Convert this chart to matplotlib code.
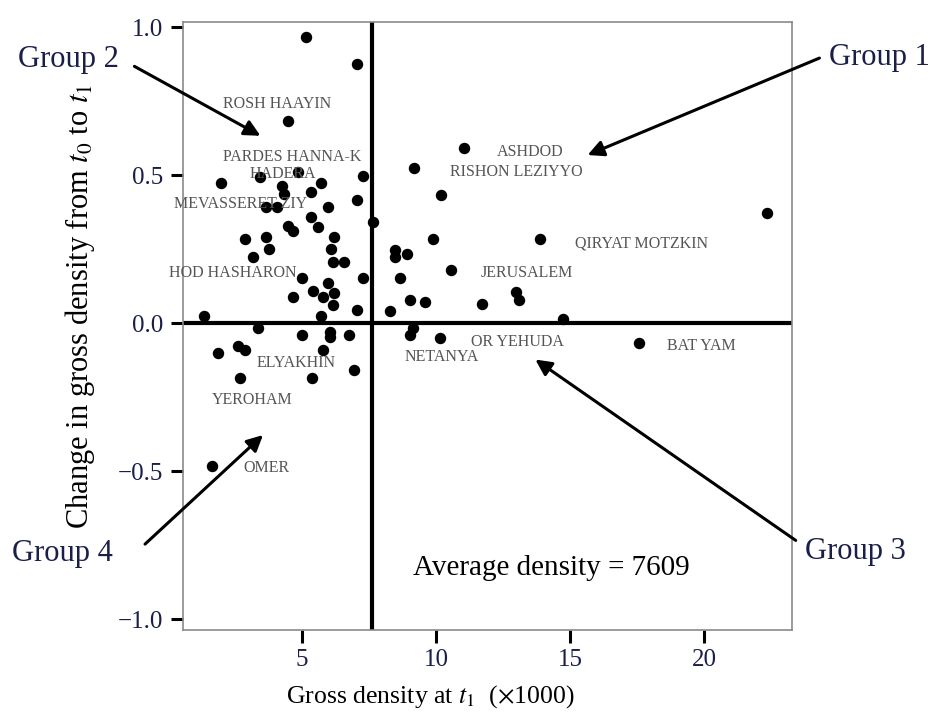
import matplotlib.pyplot as plt

plt.rcParams['font.family'] = ['Liberation Serif', 'DejaVu Serif']
plt.rcParams['mathtext.fontset'] = 'stix'

# Gross density at t1 (x1000) and change in gross density, one point per town
density = [5.15, 7.05, 4.48, 11.04, 9.18, 3.43, 4.85, 7.28, 1.98, 4.25,
           4.33, 5.71, 5.34, 7.05, 3.66, 4.07, 5.97, 5.34, 10.19, 5.60,
           4.48, 4.66, 7.65, 2.87, 3.66, 3.77, 6.19, 6.08, 3.17, 6.16,
           6.57, 5.00, 7.28, 5.97, 5.41, 5.78, 6.19, 4.66, 6.16, 7.05,
           1.34, 5.71, 3.36, 5.00, 6.04, 6.04, 6.75, 2.61, 2.87, 1.87,
           5.78, 6.94, 2.69, 5.37, 9.89, 13.88, 8.47, 8.92, 8.47, 8.66,
           10.56, 12.99, 13.10, 9.03, 9.59, 11.72, 8.28, 14.74, 9.14, 9.03,
           10.15, 22.35, 17.57, 1.64]
change = [0.966, 0.875, 0.682, 0.591, 0.524, 0.493, 0.510, 0.497, 0.473, 0.463,
          0.436, 0.473, 0.443, 0.416, 0.392, 0.392, 0.392, 0.358, 0.432, 0.324,
          0.328, 0.311, 0.341, 0.284, 0.291, 0.250, 0.291, 0.250, 0.223, 0.206,
          0.206, 0.152, 0.152, 0.135, 0.108, 0.088, 0.101, 0.088, 0.061, 0.044,
          0.024, 0.024, -0.017, -0.041, -0.030, -0.047, -0.041, -0.078, -0.091, -0.101,
          -0.091, -0.159, -0.186, -0.186, 0.284, 0.284, 0.247, 0.233, 0.223, 0.152,
          0.179, 0.105, 0.078, 0.078, 0.071, 0.064, 0.041, 0.014, -0.017, -0.041,
          -0.051, 0.372, -0.068, -0.483]

avg_density = 7.609

# town names and where they sit in the plot
towns = ['ROSH HAAYIN', 'PARDES HANNA-K', 'HADERA', 'MEVASSERET ZIY',
         'HOD HASHARON', 'ELYAKHIN', 'YEROHAM', 'OMER', 'ASHDOD',
         'RISHON LEZIYYO', 'QIRYAT MOTZKIN', 'JERUSALEM', 'OR YEHUDA',
         'NETANYA', 'BAT YAM']
town_x = [4.07, 4.63, 4.29, 2.69, 2.43, 4.78, 3.13, 3.69, 13.51,
          12.99, 17.65, 13.40, 13.02, 10.22, 19.89]
town_y = [0.74, 0.561, 0.503, 0.402, 0.169, -0.135, -0.26, -0.49, 0.578,
          0.51, 0.27, 0.169, -0.064, -0.115, -0.078]

groups = ['Group 1', 'Group 2', 'Group 3', 'Group 4']
group_tip = [(15.56, 0.564), (3.54, 0.628), (13.62, -0.118), (3.62, -0.372)]

fig = plt.figure(figsize=(9.31, 7.15), dpi=100)
ax = fig.add_axes([183 / 931, 1 - 630 / 715, 609 / 931, 608 / 715])

ax.scatter(density, change, s=52, color='black', zorder=3)
ax.axhline(0, color='black', lw=3, zorder=2)
ax.axvline(avg_density, color='black', lw=3, zorder=2)

for name, tx, ty in zip(towns, town_x, town_y):
    ax.text(tx, ty, name, fontsize=11.5, color='#555555', ha='center', va='center')

ax.text(14.29, -0.828, 'Average density = 7609', fontsize=21, ha='center', va='center')

ax.set_xlim(0.56, 23.28)
ax.set_ylim(-1.037, 1.017)
ax.set_xticks([5, 10, 15, 20])
ax.set_yticks([-1.0, -0.5, 0.0, 0.5, 1.0])
ax.set_yticklabels(['\u22121.0', '\u22120.5', '0.0', '0.5', '1.0'])
ax.tick_params(direction='out', length=9, width=2.2, labelsize=18,
               labelcolor='#1a1f4a', pad=5)
for sp in ax.spines.values():
    sp.set_color('#8a8a8a')
    sp.set_linewidth(1.2)

ax.set_xlabel(r'Gross density at $t_1$  ($\times$1000)', fontsize=18.5)
ax.set_ylabel(r'Change in gross density from $t_0$ to $t_1$', fontsize=22)
ax.xaxis.set_label_coords(0.406, -0.088)
ax.yaxis.set_label_coords(-0.141, 0.533)

# group callouts: text outside the axes, arrows pointing into the quadrants
group_text = [(879, 658), (68, 656), (855, 163), (62, 162)]
group_tail = [(822, 658), (132, 650), (798, 173), (143, 169)]
for g, (gx, gy), tail, tip in zip(groups, group_text, group_tail, group_tip):
    fig.text(gx / 931, gy / 715, g, fontsize=22, color='#1a1f4a', ha='center', va='center')
    ax.annotate('', xy=tip, xycoords='data', xytext=tail, textcoords='figure pixels',
                arrowprops=dict(arrowstyle='-|>', lw=2.2, color='black', mutation_scale=24),
                annotation_clip=False)

fig.savefig('out.png', dpi=100)
